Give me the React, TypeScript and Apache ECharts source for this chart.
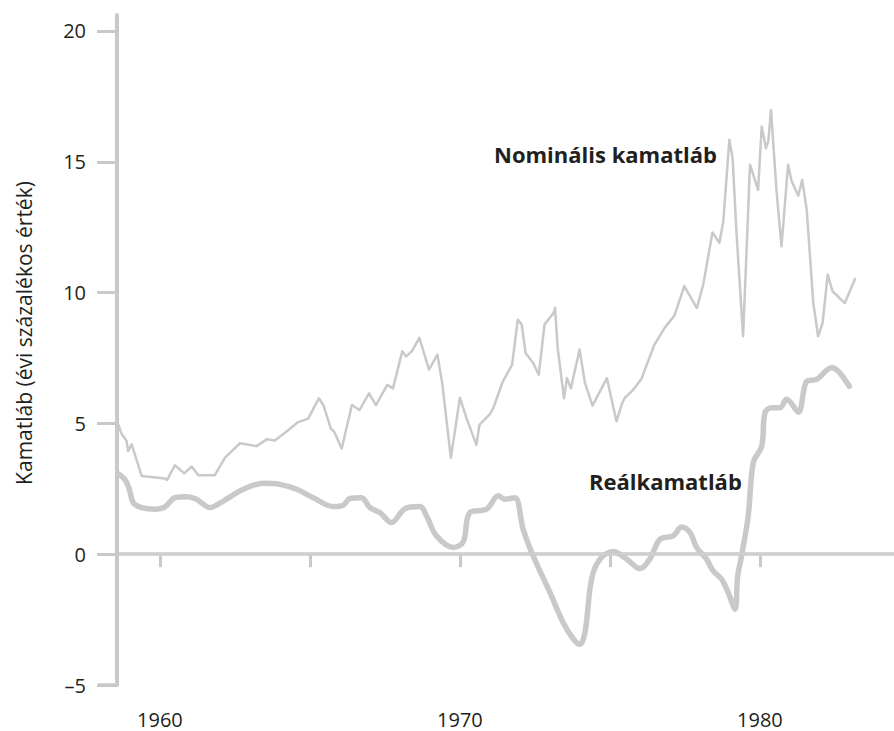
import React, { useEffect, useRef } from 'react';
import * as echarts from 'echarts';

const nominalYears = [
  1958.6, 1958.72, 1958.89, 1958.94, 1959.06, 1959.39, 1960.17, 1960.24, 1960.5, 1960.81,
  1961.06, 1961.28, 1961.83, 1962.17, 1962.67, 1963.22, 1963.56, 1963.83, 1964.17, 1964.61,
  1964.94, 1965.3, 1965.45, 1965.7, 1965.81, 1966.06, 1966.4, 1966.65, 1966.97, 1967.2,
  1967.58, 1967.77, 1968.08, 1968.21, 1968.4, 1968.65, 1968.97, 1969.25, 1969.41, 1969.7,
  1970.0, 1970.22, 1970.55, 1970.65, 1971.0, 1971.11, 1971.43, 1971.74, 1971.93, 1972.06,
  1972.19, 1972.44, 1972.63, 1972.82, 1973.13, 1973.17, 1973.26, 1973.47, 1973.57, 1973.7,
  1973.99, 1974.17, 1974.42, 1974.9, 1975.22, 1975.4, 1975.5, 1975.75, 1976.05, 1976.48,
  1976.83, 1977.15, 1977.48, 1977.9, 1978.11, 1978.42, 1978.65, 1978.78, 1978.98, 1979.09,
  1979.22, 1979.44, 1979.67, 1979.94, 1980.06, 1980.2, 1980.28, 1980.37, 1980.56, 1980.72,
  1980.94, 1981.06, 1981.28, 1981.41, 1981.56, 1981.78, 1981.94, 1982.09, 1982.26, 1982.42,
  1982.83, 1983.17,
];
const nominalValues = [
  5.0, 4.6, 4.33, 3.94, 4.2, 2.99, 2.89, 2.84, 3.4, 3.09,
  3.35, 3.02, 3.02, 3.69, 4.24, 4.13, 4.39, 4.35, 4.64, 5.05,
  5.18, 5.96, 5.7, 4.8, 4.68, 4.04, 5.7, 5.51, 6.15, 5.7,
  6.47, 6.34, 7.76, 7.56, 7.76, 8.27, 7.05, 7.63, 6.54, 3.69,
  5.98, 5.2, 4.18, 4.94, 5.35, 5.58, 6.6, 7.24, 8.97, 8.78,
  7.69, 7.31, 6.86, 8.78, 9.23, 9.42, 7.88, 5.96, 6.73, 6.34,
  7.82, 6.54, 5.68, 6.73, 5.07, 5.75, 5.98, 6.25, 6.7, 8.0,
  8.66, 9.12, 10.25, 9.41, 10.3, 12.3, 11.9, 12.72, 15.84, 15.14,
  12.28, 8.33, 14.89, 13.93, 16.35, 15.52, 15.78, 16.98, 13.8, 11.77,
  14.89, 14.25, 13.7, 14.31, 13.17, 9.6, 8.33, 8.84, 10.69, 10.05,
  9.6, 10.52,
];

const realYears = [
  1958.6, 1958.83, 1958.98, 1959.11, 1959.39, 1959.83, 1960.17, 1960.5, 1960.89, 1961.22,
  1961.67, 1962.11, 1962.78, 1963.44, 1964.0, 1964.56, 1965.11, 1965.78, 1966.11, 1966.33,
  1966.72, 1967.0, 1967.33, 1967.72, 1968.17, 1968.67, 1968.89, 1969.22, 1969.78, 1970.11,
  1970.33, 1970.89, 1971.28, 1971.5, 1971.83, 1972.11, 1972.44, 1973.0, 1973.44, 1973.78,
  1974.0, 1974.17, 1974.39, 1974.67, 1975.11, 1975.56, 1976.0, 1976.33, 1976.67, 1977.11,
  1977.39, 1977.67, 1977.89, 1978.22, 1978.44, 1978.72, 1978.94, 1979.17, 1979.26, 1979.39,
  1979.61, 1979.78, 1980.06, 1980.17, 1980.39, 1980.67, 1980.89, 1981.28, 1981.56, 1981.89,
  1982.39, 1982.61, 1982.98,
];
const realValues = [
  3.08, 2.86, 2.48, 1.97, 1.78, 1.72, 1.81, 2.16, 2.2, 2.1,
  1.78, 2.03, 2.48, 2.71, 2.67, 2.48, 2.16, 1.82, 1.87, 2.13,
  2.16, 1.78, 1.59, 1.21, 1.74, 1.82, 1.46, 0.7, 0.26, 0.47,
  1.59, 1.72, 2.23, 2.1, 2.16, 0.95, -0.06, -1.46, -2.61, -3.24,
  -3.44, -2.99, -0.95, -0.19, 0.1, -0.19, -0.55, -0.19, 0.57, 0.7,
  1.04, 0.83, 0.26, -0.19, -0.64, -0.95, -1.46, -2.1, -0.83, -0.06,
  1.46, 3.5, 4.13, 5.41, 5.6, 5.6, 5.92, 5.43, 6.61, 6.68,
  7.13, 7.0, 6.42,
];

const yTicks = [-5, 0, 5, 10, 15, 20];
const xTicks = [1960, 1965, 1970, 1975, 1980];
const xLabels = [1960, 1970, 1980];

const nominalLabel = 'Nominális kamatláb';
const realLabel = 'Reálkamatláb';
const yTitle = 'Kamatláb (évi százalékos érték)';

const GRAY = '#c9c9c9';
const TEXT = '#231f20';
const FONT = '"Open Sans", "Noto Sans", sans-serif';

export default function App() {
  const ref = useRef<HTMLDivElement>(null);

  useEffect(() => {
    if (!ref.current) return;
    const chart = echarts.init(ref.current, null, { renderer: 'svg' });
    const nominal = nominalYears.map((x, i) => [x, nominalValues[i]]);
    const real = realYears.map((x, i) => [x, realValues[i]]);

    chart.setOption({
      animation: false,
      backgroundColor: '#ffffff',
      grid: { left: 117, right: 0, top: 15, bottom: 46, containLabel: false },
      xAxis: {
        type: 'value',
        min: 1958.57,
        max: 1984.47,
        splitLine: { show: false },
        axisLine: { show: true, lineStyle: { color: GRAY, width: 3.5 } },
        axisTick: {
          show: true,
          customValues: xTicks,
          length: 13,
          inside: false,
          lineStyle: { color: GRAY, width: 3 },
        },
        axisLabel: {
          show: true,
          customValues: xLabels,
          margin: 24,
          color: TEXT,
          fontFamily: FONT,
          fontSize: 20,
          formatter: (v: number) => String(v),
        },
      },
      yAxis: {
        type: 'value',
        min: -5,
        max: 20.61,
        splitLine: { show: false },
        axisLine: { show: true, lineStyle: { color: GRAY, width: 4 } },
        axisTick: {
          show: true,
          customValues: yTicks,
          length: 20,
          lineStyle: { color: GRAY, width: 3 },
        },
        axisLabel: {
          show: true,
          customValues: yTicks,
          margin: 31,
          color: TEXT,
          fontFamily: FONT,
          fontSize: 20,
          formatter: (v: number) => (v < 0 ? '\u2013' + Math.abs(v) : String(v)),
        },
      },
      series: [
        {
          type: 'line',
          name: nominalLabel,
          data: nominal,
          showSymbol: false,
          smooth: false,
          lineStyle: { color: GRAY, width: 2.5, cap: 'round', join: 'round' },
          z: 3,
          silent: true,
        },
        {
          type: 'line',
          name: realLabel,
          data: real,
          showSymbol: false,
          smooth: 0.35,
          lineStyle: { color: GRAY, width: 5.5, cap: 'round', join: 'round' },
          z: 3,
          silent: true,
          markLine: {
            silent: true,
            symbol: 'none',
            label: { show: false },
            lineStyle: { color: '#d0d0d0', width: 1.5, type: 'solid' },
            data: [{ yAxis: 0 }],
          },
        },
      ],
      graphic: [
        {
          type: 'line',
          shape: { x1: 98, y1: 685, x2: 117, y2: 685 },
          style: { stroke: GRAY, lineWidth: 3.5 },
          silent: true,
        },
        {
          type: 'text',
          x: 494,
          y: 154,
          style: {
            text: nominalLabel,
            fill: TEXT,
            font: `bold 22px ${FONT}`,
            textAlign: 'left',
            textVerticalAlign: 'middle',
          },
        },
        {
          type: 'text',
          x: 589,
          y: 481,
          style: {
            text: realLabel,
            fill: TEXT,
            font: `bold 22px ${FONT}`,
            textAlign: 'left',
            textVerticalAlign: 'middle',
          },
        },
        {
          type: 'text',
          x: 24,
          y: 333,
          rotation: Math.PI / 2,
          style: {
            text: yTitle,
            fill: TEXT,
            font: `21px ${FONT}`,
            textAlign: 'center',
            textVerticalAlign: 'middle',
          },
        },
      ],
    });

    return () => chart.dispose();
  }, []);

  return (
    <div
      ref={ref}
      style={{ position: 'fixed', left: 0, top: 0, width: 894, height: 731 }}
    />
  );
}
